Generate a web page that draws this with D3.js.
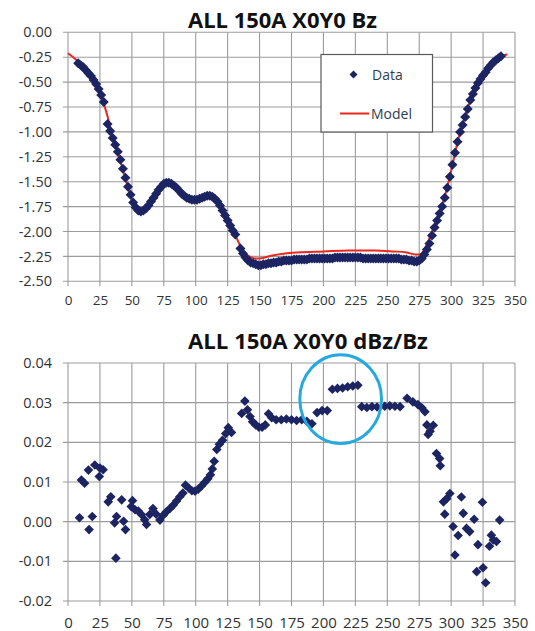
<!DOCTYPE html>
<html>
<head>
<meta charset="utf-8">
<script src="https://cdn.jsdelivr.net/npm/d3@7"></script>
<style>
  html, body { margin: 0; padding: 0; background: #fff; }
  svg { display: block; }
</style>
</head>
<body>
<script>
// ---- data ----
const xTicks = [0, 25, 50, 75, 100, 125, 150, 175, 200, 225, 250, 275, 300, 325, 350];
const bzTicks = [0, -0.25, -0.5, -0.75, -1, -1.25, -1.5, -1.75, -2, -2.25, -2.5];
const ratioTicks = [0.04, 0.03, 0.02, 0.01, 0, -0.01, -0.02];

// Bz measured points [angle, Bz]
const bzData = [
  [8,-0.31],[10,-0.33],[12,-0.35],[14,-0.38],[16,-0.41],[18,-0.44],[20,-0.48],[22,-0.52],[24,-0.57],[26,-0.63],[28,-0.70],
  [31,-0.92],[33,-0.99],[35,-1.06],[37,-1.13],[39,-1.20],[41,-1.28],[43,-1.37],[45,-1.46],[47,-1.55],[49,-1.63],[51,-1.71],
  [53,-1.76],[55,-1.79],[57,-1.80],[59,-1.79],[61,-1.77],[63,-1.74],[65,-1.70],[67,-1.66],[69,-1.62],[71,-1.58],[73,-1.55],
  [75,-1.52],[77,-1.51],[79,-1.51],[81,-1.52],[83,-1.54],[85,-1.56],[87,-1.59],[89,-1.62],[91,-1.64],[93,-1.66],[95,-1.67],
  [97,-1.68],[99,-1.68],[101,-1.68],[103,-1.67],[105,-1.66],[107,-1.65],[109,-1.64],[111,-1.64],[113,-1.65],[115,-1.67],
  [117,-1.70],[119,-1.74],[121,-1.79],[123,-1.84],[125,-1.89],[127,-1.94],[129,-1.99],[131,-2.03],
  [135,-2.17],[137,-2.22],[139,-2.26],[141,-2.29],[143,-2.31],[145,-2.32],[147,-2.33],[149,-2.34],[151,-2.34],[153,-2.33],
  [155,-2.33],[157,-2.32],[159,-2.32],[161,-2.31],[163,-2.31],[165,-2.30],[167,-2.30],[169,-2.29],[171,-2.29],[173,-2.29],
  [175,-2.29],[177,-2.28],[179,-2.28],[181,-2.28],[183,-2.28],[185,-2.28],[187,-2.28],[189,-2.27],[191,-2.27],[193,-2.27],
  [195,-2.27],[197,-2.27],[199,-2.27],[201,-2.27],[203,-2.27],[205,-2.27],[207,-2.27],[209,-2.26],[211,-2.26],[213,-2.26],
  [215,-2.26],[217,-2.26],[219,-2.26],[221,-2.26],[223,-2.26],[225,-2.26],[227,-2.26],[229,-2.26],[231,-2.27],[233,-2.27],
  [235,-2.27],[237,-2.27],[239,-2.27],[241,-2.27],[243,-2.27],[245,-2.27],[247,-2.27],[249,-2.27],[251,-2.27],[253,-2.27],
  [255,-2.27],[257,-2.27],[259,-2.27],[261,-2.28],[263,-2.28],[265,-2.28],[267,-2.29],[269,-2.29],[271,-2.30],[273,-2.30],
  [275,-2.29],[277,-2.27],[279,-2.23],[281,-2.18],[283,-2.12],[285,-2.04],[287,-1.96],[289,-1.89],[291,-1.82],[293,-1.75],
  [295,-1.66],[297,-1.56],[299,-1.45],[301,-1.33],[303,-1.21],[305,-1.10],[307,-1.00],[309,-0.93],[311,-0.85],[313,-0.77],
  [315,-0.68],[317,-0.62],[319,-0.56],[321,-0.51],[323,-0.47],[325,-0.43],[327,-0.40],[329,-0.36],[331,-0.33],[333,-0.30],
  [335,-0.28],[337,-0.26],[339,-0.24]
];

// Bz model curve [angle, Bz]
const bzModel = [
  [0,-0.21],[5,-0.26],[10,-0.32],[15,-0.39],[20,-0.48],[25,-0.60],[30,-0.80],[35,-1.04],[40,-1.25],[45,-1.47],[50,-1.68],
  [55,-1.79],[58,-1.80],[62,-1.76],[66,-1.69],[70,-1.60],[74,-1.54],[78,-1.51],[82,-1.52],[86,-1.57],[90,-1.62],[95,-1.66],
  [100,-1.68],[105,-1.66],[110,-1.64],[114,-1.65],[118,-1.71],[122,-1.80],[126,-1.91],[130,-2.01],[134,-2.12],[138,-2.21],
  [142,-2.25],[146,-2.27],[150,-2.27],[160,-2.24],[170,-2.22],[180,-2.21],[200,-2.20],[220,-2.19],[240,-2.19],[255,-2.20],
  [265,-2.21],[272,-2.23],[276,-2.23],[279,-2.18],[282,-2.10],[285,-2.00],[288,-1.90],[292,-1.77],[296,-1.60],[300,-1.39],
  [304,-1.16],[308,-0.96],[312,-0.80],[316,-0.65],[320,-0.53],[325,-0.43],[330,-0.35],[335,-0.29],[340,-0.24],[344,-0.22]
];

// dBz/Bz points [angle, ratio]
const ratioData = [
  [9,0.001],[10.5,0.0105],[13,0.0097],[16,0.013],[16.5,-0.002],[19,0.0013],[21,0.0143],[24.5,0.0114],[25,0.0135],[27.5,0.0131],
  [31.5,0.005],[33.5,0.0063],[36.5,-0.0003],[37.5,-0.0092],[38,0.0013],[42,0.0055],[43.5,0.0001],[45,-0.002],[49.5,0.0038],
  [50.5,0.0053],[52.5,0.003],[55,0.0027],[57.5,0.0018],[60,0.0005],[61.5,-0.0007],[64,0.0018],[66.5,0.0033],[69,0.0019],
  [72,0.0004],[74.5,0.0016],[77,0.0025],[80,0.0034],[82.5,0.0042],[85,0.0052],[87.5,0.0063],[90,0.0072],[92,0.0092],
  [94.5,0.0085],[97,0.0078],[99.5,0.0077],[102,0.0082],[104.5,0.009],[107,0.0099],[109.5,0.0108],[111.5,0.0118],[113,0.0133],
  [114.5,0.0152],[116.5,0.0182],[118.5,0.0195],[121,0.0205],[123.5,0.0222],[125.5,0.0237],[128,0.0225],
  [136,0.0273],[138.5,0.0304],[140.5,0.0282],[142.5,0.0265],[144.5,0.0252],[147,0.0244],[149.5,0.0238],[152,0.0238],
  [154.5,0.0244],[157,0.0272],[159.5,0.0262],[163,0.0257],[167,0.0257],[171,0.0259],[175,0.0257],[179,0.0255],[183,0.0257],
  [187,0.0253],[191,0.0247],[195,0.0275],[199,0.028],[203,0.028],[207,0.0334],[211,0.0336],[215,0.0337],[219,0.034],
  [223,0.0342],[227,0.0344],[230,0.029],[234,0.0288],[238,0.029],[242,0.0289],[248,0.0291],[252,0.0292],[256,0.0291],
  [260,0.029],[265.5,0.0311],[270,0.0302],[274,0.0295],[277,0.0287],[279.5,0.0277],[281,0.0244],[282,0.022],[283.5,0.0228],
  [286,0.0243],[288.5,0.0172],[291,0.0159],[291.5,0.0141],
  [294,0.005],[295,0.0019],[296.5,0.0058],[299,0.0071],[301.5,-0.0012],[303,-0.0084],[305.5,-0.0035],[308,0.0062],
  [309.5,0.0021],[312,-0.0017],[314.5,-0.0025],[318,0.0006],[320,-0.0126],[321,-0.0058],[324.5,0.0049],[325,-0.0116],
  [327,-0.0154],[330,-0.0062],[331.5,-0.0034],[333,-0.0046],[335.5,-0.005],[338,0.0004]
];

// circled region on the lower chart: centre angle, centre ratio, radius in angle, radius in ratio
const circleNote = { cx: 213.5, cy: 0.0309, rx: 32, ry: 0.0112 };

// ---- drawing ----
const W = 535, H = 631;
const fontFam = "'Open Sans', 'Liberation Sans', sans-serif";
const gridColor = "#9c9c9c";
const markColor = "#1d2462";
const labelColor = "#333";

const svg = d3.select("body").append("svg")
  .attr("width", W)
  .attr("height", H);

const x = d3.scaleLinear().domain([0, 350]).range([68, 515]);

const diamond = r => `M0,${-r}L${r},0L0,${r}L${-r},0Z`;

function fitTitle(textSel, target) {
  const len = textSel.node().getComputedTextLength();
  const size = parseFloat(textSel.attr("font-size"));
  textSel.attr("font-size", (size * target / len).toFixed(2));
}

function panel(y, yTicks, fmt, opts) {
  const g = svg.append("g");
  const [x0, x1] = x.range();
  const [yb, yt] = y.range();

  // gridlines
  g.append("g").selectAll("line").data(xTicks).join("line")
    .attr("x1", d => x(d)).attr("x2", d => x(d))
    .attr("y1", yt).attr("y2", yb + 5)
    .attr("stroke", gridColor).attr("stroke-width", 1.1);
  g.append("g").selectAll("line").data(yTicks).join("line")
    .attr("x1", x0 - 5).attr("x2", x1)
    .attr("y1", d => y(d)).attr("y2", d => y(d))
    .attr("stroke", gridColor).attr("stroke-width", 1.1);

  // y labels
  g.append("g")
    .attr("transform", `translate(${x0},0)`)
    .call(d3.axisLeft(y).tickValues(yTicks).tickSize(0).tickPadding(16).tickFormat(fmt))
    .call(a => a.select(".domain").remove())
    .selectAll("text")
      .attr("font-family", fontFam)
      .attr("font-size", opts.ySize)
      .attr("fill", labelColor);

  // x labels
  g.append("g")
    .attr("transform", `translate(0,${yb})`)
    .call(d3.axisBottom(x).tickValues(xTicks).tickSize(0).tickPadding(opts.xPad).tickFormat(d => d))
    .call(a => a.select(".domain").remove())
    .selectAll("text")
      .attr("font-family", fontFam)
      .attr("font-size", opts.xSize)
      .attr("fill", labelColor);

  // title
  const t = svg.append("text")
    .attr("x", 188)
    .attr("y", opts.titleY)
    .attr("font-family", fontFam)
    .attr("font-weight", "bold")
    .attr("font-size", 20)
    .attr("fill", "#111")
    .text(opts.title);
  fitTitle(t, opts.titleW);
  return g;
}

// ---------- top chart: Bz ----------
const yTop = d3.scaleLinear().domain([-2.5, 0]).range([281.3, 32.3]);
panel(yTop, bzTicks, d => d.toFixed(2),
  { ySize: 14.5, xSize: 13.5, xPad: 14, titleY: 28, title: "ALL 150A X0Y0 Bz", titleW: 189 });

// model first, the data diamonds sit on top of it
svg.append("path")
  .datum(bzModel)
  .attr("d", d3.line().x(d => x(d[0])).y(d => yTop(d[1])).curve(d3.curveMonotoneX))
  .attr("fill", "none")
  .attr("stroke", "#e8281e")
  .attr("stroke-width", 2);

svg.append("g").selectAll("path").data(bzData).join("path")
  .attr("d", diamond(5))
  .attr("transform", d => `translate(${x(d[0])},${yTop(d[1])})`)
  .attr("fill", markColor);

// legend
const leg = svg.append("g");
leg.append("rect")
  .attr("x", 321).attr("y", 54.5).attr("width", 111.5).attr("height", 77.5)
  .attr("fill", "#fff").attr("stroke", "#5a5a5a").attr("stroke-width", 1.2);
leg.append("path")
  .attr("d", diamond(4))
  .attr("transform", "translate(353.5,74.5)")
  .attr("fill", markColor);
leg.append("line")
  .attr("x1", 340).attr("x2", 369).attr("y1", 113.5).attr("y2", 113.5)
  .attr("stroke", "#e8281e").attr("stroke-width", 2);
leg.append("text")
  .attr("x", 372).attr("y", 80)
  .attr("font-family", fontFam).attr("font-size", 14)
  .attr("fill", "#2f3d4f")
  .text("Data");
leg.append("text")
  .attr("x", 371).attr("y", 119)
  .attr("font-family", fontFam).attr("font-size", 14)
  .attr("fill", "#2f3d4f")
  .text("Model");

// ---------- bottom chart: dBz/Bz ----------
const yBot = d3.scaleLinear().domain([-0.02, 0.04]).range([601, 363]);
panel(yBot, ratioTicks, d => d.toFixed(2),
  { ySize: 14.5, xSize: 15, xPad: 16, titleY: 348.5, title: "ALL 150A X0Y0 dBz/Bz", titleW: 240 });

svg.append("g").selectAll("path").data(ratioData).join("path")
  .attr("d", diamond(4.8))
  .attr("transform", d => `translate(${x(d[0])},${yBot(d[1])})`)
  .attr("fill", markColor);

svg.append("ellipse")
  .attr("cx", x(circleNote.cx))
  .attr("cy", yBot(circleNote.cy))
  .attr("rx", x(circleNote.cx + circleNote.rx) - x(circleNote.cx))
  .attr("ry", yBot(circleNote.cy - circleNote.ry) - yBot(circleNote.cy))
  .attr("fill", "none")
  .attr("stroke", "#27a8df")
  .attr("stroke-width", 3);
</script>
</body>
</html>
